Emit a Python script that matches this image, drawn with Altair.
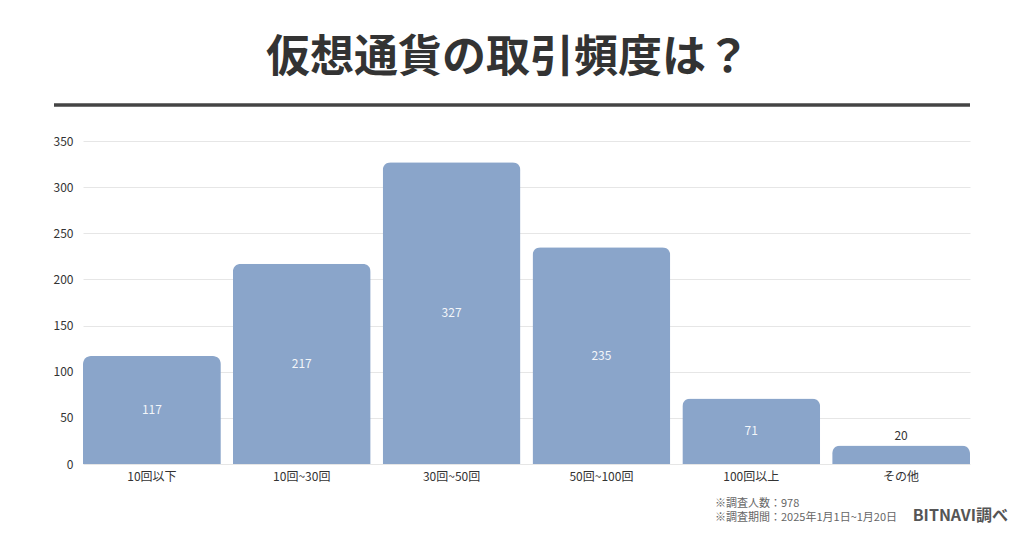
import altair as alt
import pandas as pd

categories = ["10回以下", "10回~30回", "30回~50回", "50回~100回", "100回以上", "その他"]
values = [117, 217, 327, 235, 71, 20]

title_text = "仮想通貨の取引頻度は？"
note1 = "※調査人数：978"
note2 = "※調査期間：2025年1月1日~1月20日"
source = "BITNAVI調べ"

FONT = "Noto Sans CJK JP"
BAR = "#8aa5ca"

df = pd.DataFrame({"cat": categories, "val": values})

x_enc = alt.X("cat:N", sort=categories, title=None,
              scale=alt.Scale(paddingInner=0.08, paddingOuter=0),
              axis=alt.Axis(labelAngle=0, labelFont=FONT, labelFontSize=12,
                            labelColor="#333333", labelPadding=7,
                            domain=False, ticks=False))
y_scale = alt.Scale(domain=[0, 350])

base = alt.Chart(df)

bars = base.mark_bar(color=BAR, cornerRadiusTopLeft=8, cornerRadiusTopRight=8).encode(
    x=x_enc,
    y=alt.Y("val:Q", scale=y_scale, title=None,
            axis=alt.Axis(values=[0, 50, 100, 150, 200, 250, 300, 350],
                          labelFont=FONT, labelFontSize=12, labelColor="#333333",
                          labelPadding=10, domain=False, ticks=False,
                          gridColor="#e6e6e6", gridWidth=1)),
)

inside = base.transform_filter("datum.val >= 50").transform_calculate(
    mid="datum.val / 2"
).mark_text(font=FONT, fontSize=12, color="#ffffff", opacity=0.9, baseline="middle").encode(
    x=alt.X("cat:N", sort=categories),
    y=alt.Y("mid:Q", scale=y_scale),
    text="val:Q",
)

outside = base.transform_filter("datum.val < 50").mark_text(
    font=FONT, fontSize=12, color="#333333", baseline="bottom", dy=-3
).encode(
    x=alt.X("cat:N", sort=categories),
    y=alt.Y("val:Q", scale=y_scale),
    text="val:Q",
)

ann = pd.DataFrame({"t": [title_text]})
title = alt.Chart(ann).mark_text(font=FONT, fontSize=44, fontWeight="bold",
                                 color="#333333", align="center", baseline="middle").encode(
    x=alt.value(425), y=alt.value(-82), text="t:N")

rule = alt.Chart(ann).mark_rule(color="#444444", strokeWidth=3.5).encode(
    x=alt.value(-29), x2=alt.value(887), y=alt.value(-36))

n1 = alt.Chart(pd.DataFrame({"t": [note1]})).mark_text(
    font=FONT, fontSize=11, color="#666666", align="left", baseline="middle").encode(
    x=alt.value(632), y=alt.value(363), text="t:N")
n2 = alt.Chart(pd.DataFrame({"t": [note2]})).mark_text(
    font=FONT, fontSize=11, color="#666666", align="left", baseline="middle").encode(
    x=alt.value(632), y=alt.value(377), text="t:N")
src = alt.Chart(pd.DataFrame({"t": [source]})).mark_text(
    font=FONT, fontSize=16, fontWeight="bold", color="#555555", align="right",
    baseline="middle").encode(
    x=alt.value(925), y=alt.value(375), text="t:N")

chart = alt.layer(bars, inside, outside, title, rule, n1, n2, src).properties(
    width=887, height=323,
    autosize=alt.AutoSizeParams(type="none"),
    padding={"left": 75, "top": 133, "right": 46, "bottom": 66},
    background="#ffffff",
).configure_view(stroke=None)

chart.save("out.html", embed_options={"renderer": "svg", "actions": False})
